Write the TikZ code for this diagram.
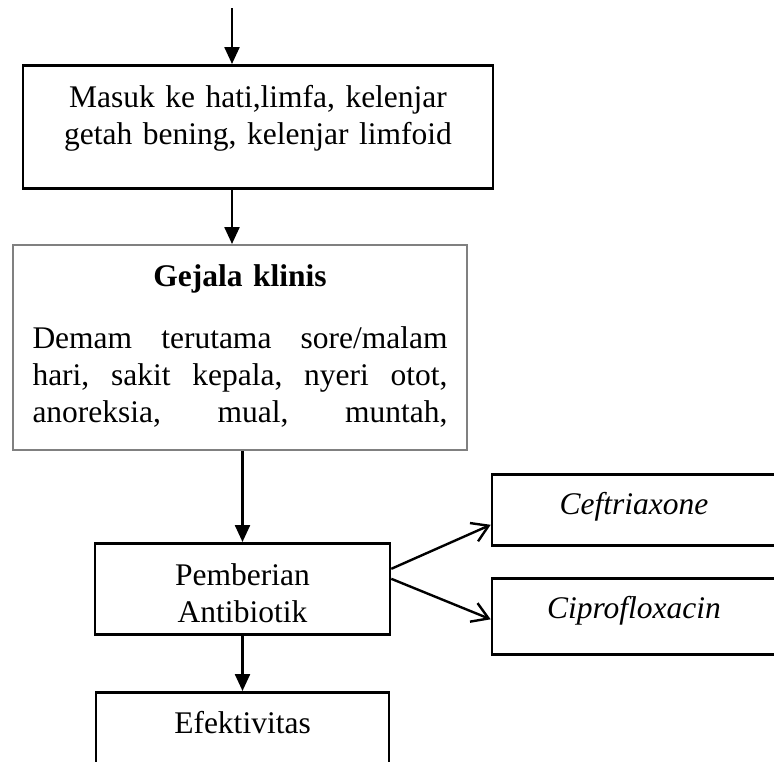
\documentclass[tikz,border=0pt]{standalone}
\usepackage{fontspec}
\setmainfont{Liberation Serif}
\usetikzlibrary{arrows.meta}

\begin{document}
\begin{tikzpicture}[x=1pt, y=-1pt,
    blok/.style={draw, line width=2.6pt, inner sep=0pt, anchor=north, align=center,
        font=\fontsize{31.5}{37}\selectfont},
    pijl/.style={-{Triangle[length=17pt, width=15pt]}, line width=2.4pt},
    panah/.style={-{Straight Barb[length=16pt, width=20pt]}, line width=2.4pt}]
    \useasboundingbox (0,0) rectangle (774,761);
    \clip (0,0) rectangle (774,761);

    % Alur utama
    \coordinate (awal) at (232,8);
    \node[blok, text width=470pt, text height=42pt, text depth=81pt] (masuk) at (258,64)
        {Masuk ke hati,limfa, kelenjar\\getah bening, kelenjar limfoid};
    \node[blok, draw=gray, line width=2pt, inner xsep=19.5pt, text width=415pt,
        text height=41pt, text depth=164pt] (gejala) at (240,244)
        {\textbf{Gejala klinis}\\[25pt]
         Demam\hfill terutama\hfill sore/malam\\
         hari,\hfill sakit\hfill kepala,\hfill nyeri\hfill otot,\\
         anoreksia,\hfill mual,\hfill muntah,};
    \node[blok, text width=295pt, text height=42pt, text depth=49pt] (antibiotik) at (242.5,542)
        {Pemberian\\Antibiotik};
    \node[blok, text width=293pt, text height=41pt, text depth=90pt] (efektivitas) at (242.5,691)
        {Efektivitas};

    % Jenis antibiotik
    \node[blok, text width=284pt, text height=40pt, text depth=31pt] (ceftriaxone) at (634,473)
        {\textit{Ceftriaxone}};
    \node[blok, text width=284pt, text height=40pt, text depth=36pt] (ciprofloxacin) at (634,577)
        {\textit{Ciprofloxacin}};

    % Panah
    \draw[pijl] (awal) -- (awal |- masuk.north);
    \draw[pijl] (masuk.south -| awal) -- (gejala.north -| awal);
    \draw[pijl] (gejala.south -| antibiotik) -- (antibiotik.north);
    \draw[pijl] (antibiotik.south) -- (efektivitas.north);
    \draw[panah] ([yshift=20pt]antibiotik.east) -- ([yshift=-15pt]ceftriaxone.west);
    \draw[panah] ([yshift=10pt]antibiotik.east) -- ([yshift=-3pt]ciprofloxacin.west);
\end{tikzpicture}
\end{document}
